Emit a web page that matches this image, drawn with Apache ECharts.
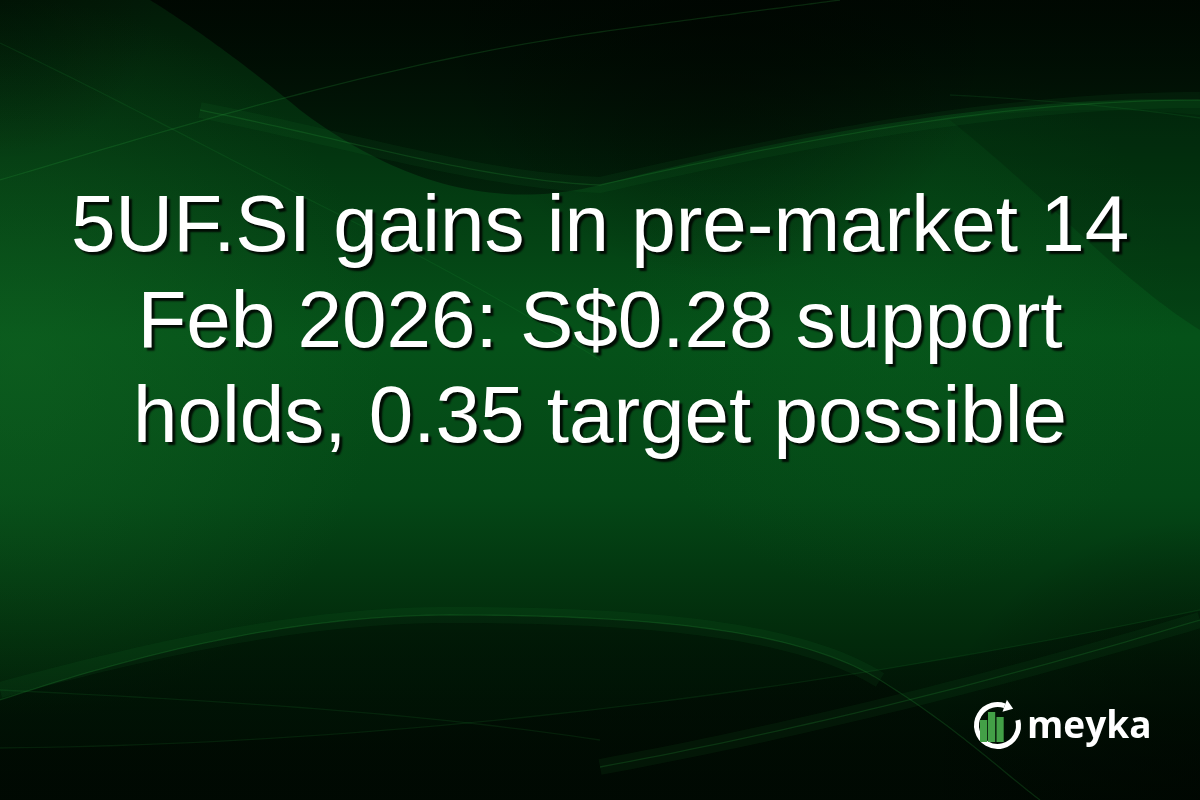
<!DOCTYPE html>
<html>
<head>
<meta charset="utf-8">
<script src="https://cdn.jsdelivr.net/npm/echarts@6/dist/echarts.min.js"></script>
<style>
html,body{margin:0;padding:0;background:#021a07;}
#chart{width:1200px;height:800px;}
</style>
</head>
<body>
<div id="chart"></div>
<script>
// Content
const titleLines = [
  "5UF.SI gains in pre-market 14",
  "Feb 2026: S$0.28 support",
  "holds, 0.35 target possible"
];
const brandName = "meyka";
// logo bar heights (px)
const logoBars = [22, 30, 25];

const chart = echarts.init(document.getElementById('chart'), null, {renderer: 'canvas'});

const W = 1200, H = 800;
const g = [];

// sample a simple path string (M, L, C, Z) into points
function samplePath(d){
  const tok = d.replace(/,/g,' ').replace(/([MLCZ])/g,' $1 ').trim().split(/\s+/);
  const pts = []; let i=0, cur=[0,0], cmd='';
  while(i<tok.length){
    const t = tok[i];
    if(/^[MLCZ]$/.test(t)){ cmd=t; i++; if(cmd==='Z') continue; }
    if(cmd==='M'||cmd==='L'){ cur=[+tok[i],+tok[i+1]]; pts.push(cur); i+=2; }
    else if(cmd==='C'){
      const p1=[+tok[i],+tok[i+1]], p2=[+tok[i+2],+tok[i+3]], p3=[+tok[i+4],+tok[i+5]];
      const p0=cur;
      for(let k=1;k<=40;k++){ const s=k/40, u=1-s;
        pts.push([u*u*u*p0[0]+3*u*u*s*p1[0]+3*u*s*s*p2[0]+s*s*s*p3[0],
                  u*u*u*p0[1]+3*u*u*s*p1[1]+3*u*s*s*p2[1]+s*s*s*p3[1]]); }
      cur=p3; i+=6;
    } else i++;
  }
  return pts;
}
function area(d, style, z){ g.push({type:'polygon', z:z||2, shape:{points:samplePath(d)}, style:style}); }
function line(d, style, z){ g.push({type:'polyline', z:z||3, shape:{points:samplePath(d)}, style:style}); }
function radial(x,y,r,c0,c1,z){ g.push({type:'rect', shape:{x:0,y:0,width:W,height:H}, z:z||1,
  style:{fill:{type:'radial',x:x,y:y,r:r,colorStops:[{offset:0,color:c0},{offset:1,color:c1}]}}}); }

// background base
g.push({type:'rect', shape:{x:0,y:0,width:W,height:H}, z:0,
  style:{fill:{type:'linear',x:0,y:0,x2:0,y2:1,colorStops:[
    {offset:0,color:'#021a07'},{offset:0.2,color:'#033610'},
    {offset:0.42,color:'#055219'},{offset:0.62,color:'#044716'},
    {offset:0.8,color:'#022a0b'},{offset:1,color:'#010e04'}]}}});
radial(0.02,0.45,0.45,'rgba(20,105,36,0.45)','rgba(20,105,36,0)');
radial(0.75,0.4,0.35,'rgba(10,95,30,0.3)','rgba(10,95,30,0)');
radial(0.0,0.0,0.2,'rgba(0,10,2,0.4)','rgba(0,10,2,0)');

// dark top region
area('M150,0 L1200,0 L1200,100 C1050,95 850,120 600,185 C480,215 380,170 300,110 C240,60 190,25 150,0 Z',
  {fill:{type:'linear',x:0,y:0,x2:0,y2:1,colorStops:[
    {offset:0,color:'rgba(0,6,1,0.9)'},{offset:1,color:'rgba(0,10,3,0.5)'}]}});
radial(0.6,0.0,0.35,'rgba(0,5,1,0.6)','rgba(0,5,1,0)',2);
// slight dark under right band
area('M950,120 C1050,105 1150,110 1200,115 L1200,330 C1120,280 1050,200 950,120 Z', {fill:'rgba(0,15,4,0.2)'});

// dark bottom lobe
area('M0,700 C150,650 300,615 450,615 C650,615 800,630 880,680 C960,730 1000,770 1040,800 L0,800 Z',
  {fill:{type:'linear',x:0,y:0,x2:0,y2:1,colorStops:[
    {offset:0,color:'rgba(0,12,3,0.55)'},{offset:1,color:'rgba(0,10,2,0.7)'}]}});
// bottom band
area('M0,748 C300,745 700,715 1200,610 L1200,800 L0,800 Z',
  {fill:{type:'linear',x:0,y:0,x2:0,y2:1,colorStops:[
    {offset:0,color:'rgba(0,10,2,0.3)'},{offset:1,color:'rgba(0,8,2,0.7)'}]}});
radial(1.0,1.0,0.35,'rgba(0,6,1,0.7)','rgba(0,6,1,0)',2);

// soft wide highlights
[
  'M200,110 C350,140 480,180 600,185 C800,140 1000,100 1200,100',
  'M0,690 C150,650 300,615 450,615 C650,615 800,630 880,680',
  'M600,767 C800,730 1000,680 1200,620'
].forEach(p=>line(p, {fill:null, stroke:'rgba(30,140,50,0.09)', lineWidth:16}));
// light streaks
const hl = 'rgba(40,160,60,0.22)';
const hl2 = 'rgba(40,160,60,0.13)';
[
  ['M0,180 C200,120 400,60 600,32 C700,18 780,8 840,0', hl],
  ['M200,110 C350,140 480,180 600,185 C800,140 1000,100 1200,100', hl],
  ['M0,43 C120,100 230,160 330,210 C430,260 520,310 600,360', hl2],
  ['M950,95 C1050,100 1130,108 1200,118', hl2],
  ['M0,700 C150,650 300,615 450,615 C650,615 800,630 880,680 C960,730 1000,770 1040,800', hl],
  ['M0,690 C200,700 400,710 600,740', hl2],
  ['M600,767 C800,730 1000,680 1200,620', hl],
  ['M0,748 C300,745 700,715 1200,610', hl2]
].forEach(p=>line(p[0], {fill:null, stroke:p[1], lineWidth:1.3}));

// title
const lineBase = [252, 348, 443];
titleLines.forEach((t,i)=>{
  g.push({type:'text', z:10, x:600, y:lineBase[i] + 17,
    style:{text:t, fill:'#ffffff', font:'80px "Liberation Sans", Arial, sans-serif',
      align:'center', verticalAlign:'bottom',
      textShadowColor:'rgba(0,0,0,0.85)', textShadowOffsetX:3, textShadowOffsetY:3, textShadowBlur:2}});
});

// logo ring
const cx = 997.5, cy = 725.5, R = 21;
const a0 = -15*Math.PI/180, a1 = 290*Math.PI/180;
g.push({type:'arc', z:10, shape:{cx:cx, cy:cy, r:R, startAngle:a0, endAngle:a1, clockwise:true},
  style:{fill:null, stroke:'#ffffff', lineWidth:5}});
// arrowhead at end of arc, pointing clockwise
(function(){
  const px = cx + R*Math.cos(a1), py = cy + R*Math.sin(a1);
  const tx = -Math.sin(a1), ty = Math.cos(a1), nx = Math.cos(a1), ny = Math.sin(a1);
  g.push({type:'polygon', z:10, shape:{points:[
    [px+nx*6.5, py+ny*6.5],[px-nx*6.5, py-ny*6.5],[px+tx*9, py+ty*9]]}, style:{fill:'#ffffff'}});
})();
// bars
const barX = [980, 988, 996.5], barW = 7.2, barBottom = 742;
logoBars.forEach((v,i)=>{
  g.push({type:'rect', z:10, shape:{x:barX[i], y:barBottom - v, width:barW, height:v},
    style:{fill:'#43a047'}});
});
g.push({type:'text', z:10, x:1027, y:746,
  style:{text:brandName, fill:'#ffffff', font:'bold 37px "Open Sans", sans-serif', align:'left', verticalAlign:'bottom'}});

chart.setOption({animation:false, graphic:{elements:g}});
</script>
</body>
</html>
